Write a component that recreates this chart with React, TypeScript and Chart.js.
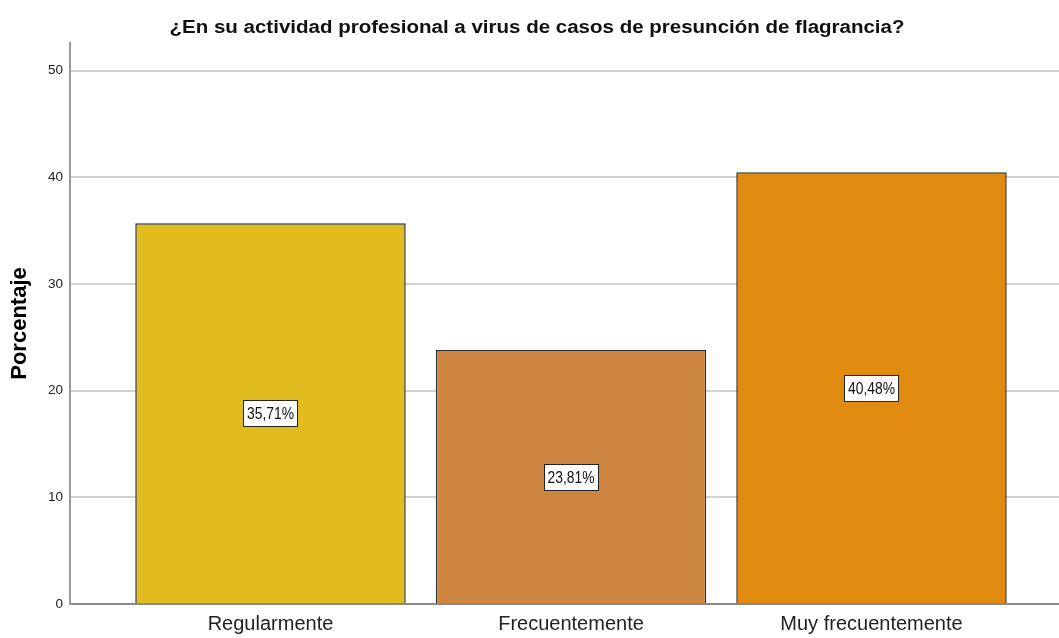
import React, { useEffect, useRef } from "react";
import { Chart, registerables } from "chart.js";

Chart.register(...registerables);

const TITLE = "¿En su actividad profesional a virus de casos de presunción de flagrancia?";
const Y_TITLE = "Porcentaje";
const categories = ["Regularmente", "Frecuentemente", "Muy frecuentemente"];
const percentages = [35.71, 23.81, 40.48];
const valueLabels = ["35,71%", "23,81%", "40,48%"];
const barColors = ["#E1BC1F", "#CD853F", "#E08A10"];
const yTicks = [0, 10, 20, 30, 40, 50];

const FONT = "'Liberation Sans', Arial, sans-serif";

function drawScaledText(
  ctx: CanvasRenderingContext2D,
  text: string,
  cx: number,
  baseline: number,
  font: string,
  targetWidth: number
) {
  ctx.save();
  ctx.font = font;
  const w = ctx.measureText(text).width;
  const sx = targetWidth / w;
  ctx.translate(cx, baseline);
  ctx.scale(sx, 1);
  ctx.textAlign = "center";
  ctx.textBaseline = "alphabetic";
  ctx.fillText(text, 0, 0);
  ctx.restore();
}

const overlayPlugin = {
  id: "overlay",
  afterDatasetsDraw(chart: any) {
    const ctx: CanvasRenderingContext2D = chart.ctx;
    const meta = chart.getDatasetMeta(0);
    meta.data.forEach((bar: any, i: number) => {
      const cx = bar.x;
      const cy = (bar.y + bar.base) / 2;
      const bw = 54;
      const bh = 26;
      ctx.save();
      ctx.fillStyle = "#ffffff";
      ctx.fillRect(Math.round(cx - bw / 2) + 0.5, Math.round(cy - bh / 2) + 0.5, bw, bh);
      ctx.strokeStyle = "#222222";
      ctx.lineWidth = 1;
      ctx.strokeRect(Math.round(cx - bw / 2) + 0.5, Math.round(cy - bh / 2) + 0.5, bw, bh);
      ctx.fillStyle = "#111111";
      drawScaledText(ctx, valueLabels[i], cx, cy + 6, `16px ${FONT}`, 47);
      ctx.restore();
    });
    ctx.save();
    ctx.fillStyle = "#111111";
    drawScaledText(ctx, TITLE, 537, 32.5, `bold 18px ${FONT}`, 735);
    ctx.restore();
  },
};

export default function App() {
  const ref = useRef<HTMLCanvasElement | null>(null);

  useEffect(() => {
    if (!ref.current) return;
    Chart.defaults.font.family = FONT;
    const chart = new Chart(ref.current, {
      type: "bar",
      data: {
        datasets: [
          {
            data: percentages.map((v, i) => ({ x: i, y: v })),
            backgroundColor: barColors,
            borderColor: "#2e2e2e",
            borderWidth: 1.5,
            barPercentage: 0.9,
            categoryPercentage: 1.0,
          },
        ],
      },
      options: {
        responsive: false,
        animation: false,
        layout: { padding: { top: 43, left: 0, right: 0, bottom: 0 } },
        plugins: {
          legend: { display: false },
          tooltip: { enabled: false },
          title: { display: false },
        },
        scales: {
          x: {
            type: "linear",
            offset: false,
            min: -0.6672,
            max: 2.624,
            afterBuildTicks: (scale: any) => {
              scale.ticks = categories.map((_, i) => ({ value: i }));
            },
            afterFit: (scale: any) => {
              scale.height = 34;
            },
            grid: { display: false, drawTicks: false, offset: false },
            border: { display: true, color: "#8a8a8a", width: 2 },
            ticks: {
              autoSkip: false,
              maxRotation: 0,
              padding: 8,
              color: "#222222",
              font: { size: 20, family: FONT },
              callback: (value: any) => categories[Math.round(Number(value))] ?? "",
            },
          },
          y: {
            type: "linear",
            min: 0,
            max: 52.6,
            afterBuildTicks: (scale: any) => {
              scale.ticks = yTicks.map((v) => ({ value: v }));
            },
            afterFit: (scale: any) => {
              scale.width = 70;
            },
            grid: {
              drawTicks: false,
              lineWidth: 2,
              color: (c: any) => (c.tick && c.tick.value === 0 ? "rgba(0,0,0,0)" : "#d2d2d2"),
            },
            border: { display: true, color: "#9a9a9a", width: 2 },
            ticks: {
              padding: 7,
              color: "#222222",
              font: { size: 13.5, family: FONT },
              callback: (value: any) => String(value),
            },
            title: {
              display: true,
              text: Y_TITLE,
              color: "#000000",
              font: { size: 22, weight: "bold", family: FONT },
              padding: { top: 7, bottom: 0 },
            },
          },
        },
      },
      plugins: [overlayPlugin],
    } as any);
    return () => chart.destroy();
  }, []);

  return (
    <div
      style={{
        position: "fixed",
        left: 0,
        top: 0,
        width: 1059,
        height: 638,
        background: "#ffffff",
      }}
    >
      <canvas ref={ref} width={1059} height={638} style={{ display: "block" }} />
    </div>
  );
}
